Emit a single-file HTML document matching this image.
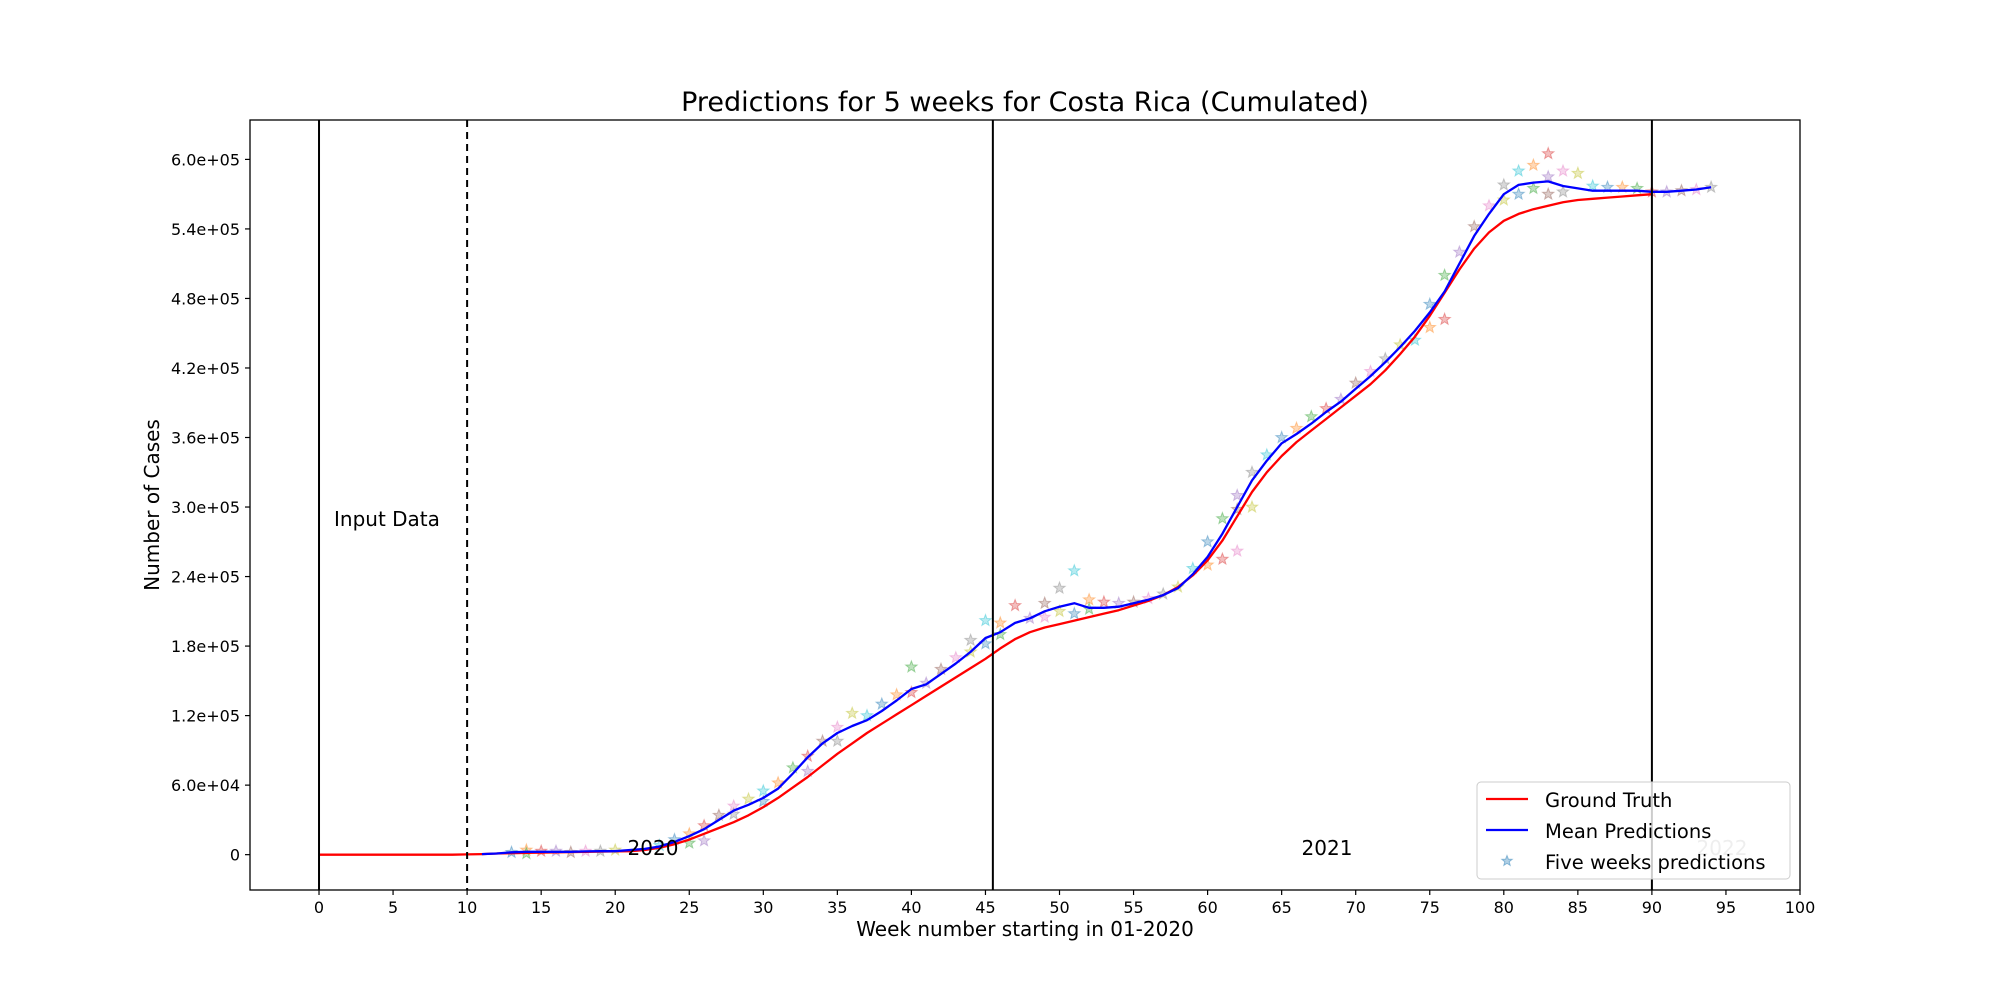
<!DOCTYPE html>
<html><head><meta charset="utf-8"><style>
body{margin:0;background:#fff;width:2000px;height:1000px;overflow:hidden;font-family:"DejaVu Sans","Liberation Sans",sans-serif}
</style></head><body>
<svg id="chart" width="2000" height="1000" xmlns="http://www.w3.org/2000/svg" font-family="DejaVu Sans, Liberation Sans, sans-serif"></svg>
<script>
const truthWeeks=[0,1,2,3,4,5,6,7,8,9,10,11,12,13,14,15,16,17,18,19,20,21,22,23,24,25,26,27,28,29,30,31,32,33,34,35,36,37,38,39,40,41,42,43,44,45,46,47,48,49,50,51,52,53,54,55,56,57,58,59,60,61,62,63,64,65,66,67,68,69,70,71,72,73,74,75,76,77,78,79,80,81,82,83,84,85,86,87,88,89,90];
const truthVals=[0,0,0,0,0,0,0,0,0,0,0.002,0.005,0.01,0.013,0.016,0.018,0.02,0.022,0.024,0.026,0.028,0.03,0.04,0.06,0.09,0.13,0.18,0.23,0.28,0.34,0.41,0.49,0.58,0.67,0.77,0.87,0.96,1.05,1.13,1.21,1.29,1.37,1.45,1.53,1.61,1.69,1.78,1.86,1.92,1.96,1.99,2.02,2.05,2.08,2.11,2.15,2.19,2.24,2.31,2.41,2.54,2.71,2.92,3.13,3.30,3.44,3.56,3.66,3.76,3.86,3.96,4.06,4.18,4.32,4.47,4.65,4.85,5.05,5.23,5.37,5.47,5.53,5.57,5.60,5.63,5.65,5.66,5.67,5.68,5.69,5.70];
const meanWeeks=[11,12,13,14,15,16,17,18,19,20,21,22,23,24,25,26,27,28,29,30,31,32,33,34,35,36,37,38,39,40,41,42,43,44,45,46,47,48,49,50,51,52,53,54,55,56,57,58,59,60,61,62,63,64,65,66,67,68,69,70,71,72,73,74,75,76,77,78,79,80,81,82,83,84,85,86,87,88,89,90,91,92,93,94];
const meanVals=[0.005,0.01,0.02,0.025,0.025,0.025,0.025,0.028,0.03,0.03,0.04,0.05,0.07,0.11,0.16,0.22,0.30,0.38,0.43,0.49,0.57,0.70,0.84,0.96,1.05,1.11,1.16,1.24,1.33,1.43,1.47,1.56,1.65,1.75,1.87,1.92,2.00,2.04,2.10,2.14,2.17,2.13,2.13,2.14,2.17,2.20,2.24,2.30,2.42,2.57,2.77,3.00,3.23,3.40,3.55,3.63,3.72,3.82,3.91,4.02,4.13,4.25,4.38,4.52,4.68,4.86,5.10,5.34,5.53,5.70,5.78,5.80,5.81,5.77,5.75,5.73,5.73,5.73,5.73,5.72,5.72,5.73,5.74,5.76];
const starWeeks=[13,14,14,15,16,17,18,19,20,23,24,25,25,26,26,27,28,28,29,30,30,31,32,33,33,34,35,35,36,37,38,39,40,40,41,42,43,44,44,45,45,46,46,47,48,49,49,50,50,51,51,52,52,53,54,55,56,57,58,59,60,60,61,61,62,62,62,63,63,64,65,66,67,68,69,70,71,72,73,74,75,75,76,76,77,78,79,80,80,81,81,82,82,83,83,83,84,84,85,86,87,88,89,90,91,92,93,94];
const starVals=[0.02,0.04,0.01,0.03,0.03,0.02,0.03,0.03,0.04,0.08,0.13,0.18,0.10,0.25,0.12,0.34,0.42,0.35,0.48,0.55,0.46,0.62,0.75,0.85,0.72,0.98,1.10,0.98,1.22,1.20,1.30,1.38,1.62,1.40,1.48,1.60,1.70,1.85,1.75,2.02,1.82,2.00,1.90,2.15,2.04,2.17,2.05,2.30,2.10,2.45,2.08,2.20,2.12,2.18,2.17,2.18,2.21,2.25,2.31,2.47,2.70,2.50,2.90,2.55,3.10,2.98,2.62,3.30,3.00,3.45,3.60,3.68,3.78,3.85,3.93,4.07,4.17,4.28,4.40,4.44,4.75,4.55,5.00,4.62,5.20,5.42,5.60,5.78,5.65,5.90,5.70,5.95,5.75,6.05,5.85,5.70,5.90,5.72,5.88,5.77,5.76,5.76,5.75,5.72,5.72,5.73,5.74,5.76];
const xTicks=[0,5,10,15,20,25,30,35,40,45,50,55,60,65,70,75,80,85,90,95,100];
const yTicks=[0,0.6,1.2,1.8,2.4,3.0,3.6,4.2,4.8,5.4,6.0];
const yTickLabels=["0","6.0e+04","1.2e+05","1.8e+05","2.4e+05","3.0e+05","3.6e+05","4.2e+05","4.8e+05","5.4e+05","6.0e+05"];

const L=250,R=1800,T=120,B=890;
const x0=-4.66,x1=100,y0=-0.305,y1=6.34;
const X=v=>L+(v-x0)/(x1-x0)*(R-L);
const Y=v=>B-(v-y0)/(y1-y0)*(B-T);
const svg=document.getElementById('chart');
const NS='http://www.w3.org/2000/svg';
function mk(tag,attrs,parent){const e=document.createElementNS(NS,tag);for(const k in attrs)e.setAttribute(k,attrs[k]);(parent||svg).appendChild(e);return e;}
function txt(s,attrs,parent){const e=mk('text',attrs,parent);e.textContent=s;return e;}

let t=txt('Predictions for 5 weeks for Costa Rica (Cumulated)',{x:1025,y:111,'font-size':27,'text-anchor':'middle',fill:'#000'});



const colors=['#1f77b4','#ff7f0e','#2ca02c','#d62728','#9467bd','#8c564b','#e377c2','#7f7f7f','#bcbd22','#17becf'];
function starPath(cx,cy,r){let p='';for(let i=0;i<10;i++){const a=-Math.PI/2+i*Math.PI/5;const rr=i%2?r*0.42:r;p+=(i?'L':'M')+(cx+rr*Math.cos(a)).toFixed(1)+','+(cy+rr*Math.sin(a)).toFixed(1);}return p+'Z';}
const gs=mk('g',{});


for(let i=0;i<starWeeks.length;i++){
  const c=colors[i%10];
  const s=mk('path',{d:starPath(X(starWeeks[i]),Y(starVals[i]),6),fill:c,'fill-opacity':0.3,stroke:c,'stroke-opacity':0.4,'stroke-width':1},gs);
  
  
}

function line(ws,vs,color,name){
  let d='';for(let i=0;i<ws.length;i++)d+=(i?'L':'M')+X(ws[i]).toFixed(1)+','+Y(vs[i]).toFixed(1);
  const p=mk('path',{d:d,fill:'none',stroke:color,'stroke-width':2.3,'stroke-linejoin':'round'});
  
  
}
line(truthWeeks,truthVals,'#ff0000','ground-truth-line');
line(meanWeeks,meanVals,'#0000ff','mean-predictions-line');

const vlines=[[0,''],[10,'7,5'],[45.5,''],[90,'']];
vlines.forEach(v=>{const l=mk('line',{x1:X(v[0]),x2:X(v[0]),y1:T,y2:B,stroke:'#000','stroke-width':2,'stroke-dasharray':v[1]});

});

t=txt('Input Data',{x:334,y:526,'font-size':20});


[['2020',653,'#000'],['2021',1327,'#000'],['2022',1722,'#aaa']].forEach(a=>{const e=txt(a[0],{x:a[1],y:855,'font-size':20,'text-anchor':'middle',fill:a[2]});

});

const frame=mk('rect',{x:L,y:T,width:R-L,height:B-T,fill:'none',stroke:'#000','stroke-width':1.3});



xTicks.forEach(v=>{mk('line',{x1:X(v),x2:X(v),y1:B,y2:B+5,stroke:'#000','stroke-width':1.2});
const e=txt(String(v),{x:X(v),y:B+23,'font-size':16,'text-anchor':'middle'});

});
yTicks.forEach((v,i)=>{mk('line',{x1:L-5,x2:L,y1:Y(v),y2:Y(v),stroke:'#000','stroke-width':1.2});
const e=txt(yTickLabels[i],{x:L-10,y:Y(v)+6,'font-size':16,'text-anchor':'end'});

});

t=txt('Week number starting in 01-2020',{x:1025,y:936,'font-size':20,'text-anchor':'middle'});


t=txt('Number of Cases',{x:0,y:0,'font-size':20,'text-anchor':'middle',transform:'translate(159,505) rotate(-90)'});



const lg=mk('g',{});


mk('rect',{x:1477,y:782,width:313,height:97,rx:4,fill:'#fff','fill-opacity':0.8,stroke:'#ccc'},lg);
mk('line',{x1:1486,x2:1528,y1:799,y2:799,stroke:'#ff0000','stroke-width':2.3},lg);
mk('line',{x1:1486,x2:1528,y1:830,y2:830,stroke:'#0000ff','stroke-width':2.3},lg);
mk('path',{d:starPath(1507,861,5.5),fill:'#1f77b4','fill-opacity':0.35,stroke:'#1f77b4','stroke-opacity':0.45},lg);
[['Ground Truth',807],['Mean Predictions',838],['Five weeks predictions',869]].forEach(a=>{const e=txt(a[0],{x:1545,y:a[1],'font-size':19.5},lg);

});
</script>
</body></html>
